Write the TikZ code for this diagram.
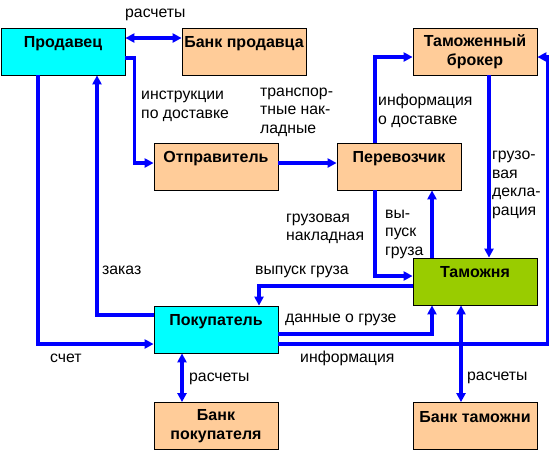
\documentclass[tikz,border=0pt]{standalone}
\usepackage{fontspec}
\setmainfont{Liberation Sans}
\usepackage{xcolor}
\usetikzlibrary{arrows.meta,calc,positioning}
\definecolor{peach}{HTML}{FFCC99}
\definecolor{aqua}{HTML}{00FFFF}
\definecolor{custgreen}{HTML}{99CC00}
\tikzset{
  box/.style={draw=black,line width=0.8pt,minimum width=124pt,minimum height=47pt,
    inner sep=0pt,align=center,font=\fontsize{16}{19}\selectfont\bfseries},
  flow/.style={draw=blue,line width=3.2pt},
  txt/.style={anchor=west,align=left,inner sep=0pt,font=\fontsize{15.8}{18.5}\selectfont}
}
\begin{document}
\begin{tikzpicture}[x=1pt,y=-1pt,line join=miter,>={Triangle[length=9pt,width=9pt]}]
\useasboundingbox (0,0) rectangle (552,451);
% participants
\node[box,fill=aqua]      (sel) at (63,51.5)  {Продавец\\~};
\node[box,fill=peach]     (bks) at (244,51.5) {Банк продавца\\~};
\node[box,fill=peach]     (brk) at (475,51.5) {Таможенный\\брокер};
\node[box,fill=peach]     (shp) at (216,166.5) {Отправитель\\~};
\node[box,fill=peach]     (car) at (399,166.5) {Перевозчик\\~};
\node[box,fill=custgreen] (cus) at (475,281.5) {Таможня\\~};
\node[box,fill=aqua]      (buy) at (216,329.5) {Покупатель\\~};
\node[box,fill=peach]     (bkb) at (216,426)   {Банк\\покупателя};
\node[box,fill=peach]     (bkc) at (475,426)   {Банк таможни\\~};
% flows
\draw[flow,<->] ([yshift=13.5pt]sel.east) -- ([yshift=13.5pt]bks.west);
\draw[flow,->] ([yshift=-6.5pt]sel.east) -- ++(9,0) |- ([yshift=3.5pt]shp.west);
\draw[flow,->] ([xshift=-25pt]sel.south) |- ([yshift=-14.5pt]buy.west);
\draw[flow,->] ([yshift=14.5pt]buy.west) -| ([xshift=34pt]sel.south);
\draw[flow,->] ([yshift=3.5pt]shp.east) -- ([yshift=3.5pt]car.west);
\draw[flow,->] ([xshift=-24pt]car.north) |- ([yshift=-5.5pt]brk.west);
\draw[flow,->] ([xshift=14pt]brk.south) -- ([xshift=14pt]cus.north);
\draw[flow,->] ([xshift=-24pt]car.south) |- ([yshift=5.5pt]cus.west);
\draw[flow,->] ([xshift=-43pt]cus.north) -- ([xshift=33pt]car.south);
\draw[flow,->] ([yshift=-4.5pt]cus.west) -| ([xshift=43pt]buy.north);
\draw[flow,->] ([yshift=-4.5pt]buy.east) -| ([xshift=-43pt]cus.south);
\draw[flow,->] ([yshift=-14.5pt]buy.east) -- ++(269,0) |- ([yshift=-5.5pt]brk.east);
\draw[flow,<->] ([xshift=-14pt]cus.south) -- ([xshift=-14pt]bkc.north);
\draw[flow,<->] ([xshift=-34pt]buy.south) -- ([xshift=-34pt]bkb.north);
% labels
\node[txt] (lpay1)  at (125,15)  {расчеты};
\node[txt] (linstr) at (141,106.5) {инструкции\\по доставке};
\node[txt] (ltrans) at (260,112) {транспор-\\тные нак-\\ладные};
\node[txt] (linfo1) at (378,111) {информация\\о доставке};
\node[txt] (ldecl)  at (492,185) {грузо-\\вая\\декла-\\рация};
\node[txt] (lwayb)  at (286,229) {грузовая\\накладная};
\node[txt] (lrel1)  at (385,234) {вы-\\пуск\\груза};
\node[txt] (lrel2)  at (255,272) {выпуск груза};
\node[txt] (lorder) at (102,270) {заказ};
\node[txt] (ldata)  at (285,320) {данные о грузе};
\node[txt] (linfo2) at (300,358) {информация};
\node[txt] (lbill)  at (50,358)  {счет};
\node[txt] (lpay2)  at (189,379) {расчеты};
\node[txt] (lpay3)  at (467,378) {расчеты};
\end{tikzpicture}
\end{document}
